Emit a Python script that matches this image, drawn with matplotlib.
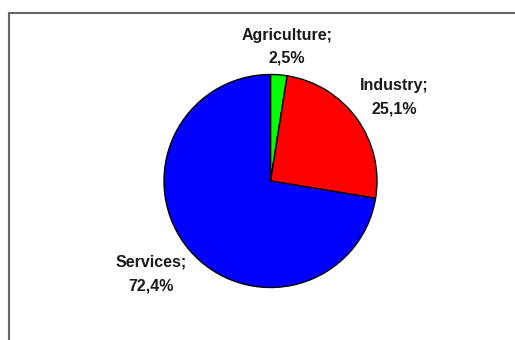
import matplotlib.pyplot as plt
from matplotlib.lines import Line2D
import numpy as np

sectors = ['Agriculture', 'Industry', 'Services']
shares = [2.5, 25.1, 72.4]
colors = ['#00ff00', '#ff0000', '#0000ff']
label_dist = [1.27, 1.40, 1.42]
label_shift = [-2.5, -1.6, -2.3]  # degrees, nudges each label around the rim

W, H = 515, 340
fig = plt.figure(figsize=(W / 100, H / 100), dpi=100)
fig.patch.set_facecolor('white')

# pie centred at (270.5, 181) px with radius 106.5 px
cx, cy, r = 270.5, 181, 106.5
ax = fig.add_axes([(cx - r) / W, (H - cy - r) / H, 2 * r / W, 2 * r / H])
wedges, _ = ax.pie(shares, colors=colors, startangle=90, counterclock=False,
                   wedgeprops=dict(edgecolor='black', linewidth=1.0))
ax.set_xlim(-1, 1)
ax.set_ylim(-1, 1)
ax.set_aspect('auto')
ax.axis('off')

for w, name, val, d, sh in zip(wedges, sectors, shares, label_dist, label_shift):
    ang = np.deg2rad((w.theta1 + w.theta2) / 2 + sh)
    txt = f'{name};\n{val:.1f}%'.replace('.', ',')
    ax.text(d * np.cos(ang), d * np.sin(ang), txt, ha='center', va='center',
            fontsize=11.5, fontweight='bold', family='Liberation Sans',
            color='#1a1a1a', linespacing=1.7, clip_on=False)

# chart area frame (top and left edges visible)
fig.add_artist(Line2D([8.5 / W, 8.5 / W], [0, 1 - 13 / H], color='#666666', lw=1.5))
fig.add_artist(Line2D([8.5 / W, 1], [1 - 13 / H, 1 - 13 / H], color='#666666', lw=1.5))

fig.savefig('out.png', dpi=100)
